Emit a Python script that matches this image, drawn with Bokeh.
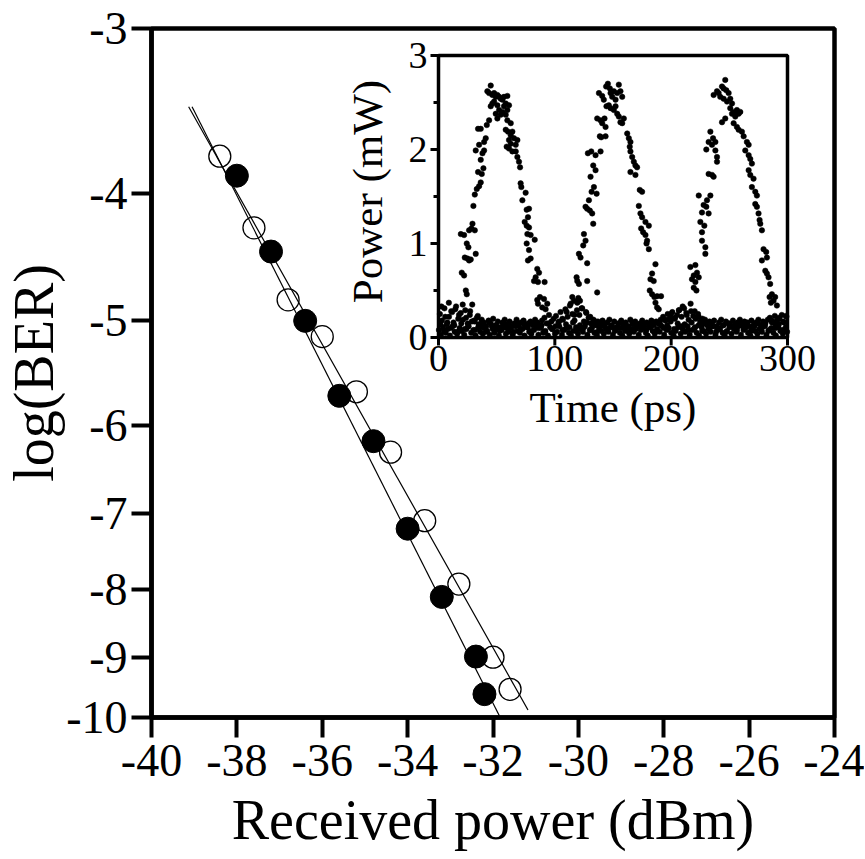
import math
from bokeh.plotting import figure
from bokeh.models import Range1d, FixedTicker, LinearScale
from bokeh.core.properties import value
from bokeh.embed import file_html
from bokeh.resources import INLINE

FONT = "Liberation Serif"

# ---------------- main chart data ----------------
x_ticks = [-40, -38, -36, -34, -32, -30, -28, -26, -24]
x_tick_labels = ["-40", "-38", "-36", "-34", "-32", "-30", "-28", "-26", "-24"]
y_ticks = [3, 4, 5, 6, 7, 8, 9, 10]          # |log(BER)| on the scale
y_tick_labels = ["-3", "-4", "-5", "-6", "-7", "-8", "-9", "-10"]

filled_x = [-38.0, -37.2, -36.4, -35.6, -34.8, -34.0, -33.2, -32.4, -32.2]
filled_logber = [-3.88, -4.43, -5.00, -5.70, -6.17, -7.19, -8.10, -8.99, -9.60]

open_x = [-38.4, -37.6, -36.8, -36.0, -35.2, -34.4, -33.6, -32.8, -32.0, -31.6]
open_logber = [-3.75, -4.25, -4.82, -5.14, -5.66, -6.29, -7.09, -7.92, -9.00, -9.52]

fit_filled_x = [-39.05, -31.75]
fit_filled_logber = [-3.44, -10.12]
fit_open_x = [-39.13, -31.18]
fit_open_logber = [-3.44, -9.87]

# ---------------- inset data (time ps, power mW) ----------------
pulse1 = [(20.0,0.69),(22.0,0.66),(23.5,0.50),(24.3,0.46),(22.6,0.85),(24.9,0.84),(26.3,0.82),(27.7,0.83),
          (32.0,0.89),(24.3,1.00),(25.7,0.96),(28.3,1.16),(31.2,1.14),(29.2,1.21),(19.2,1.10),(22.0,1.09),
          (26.3,1.14),(30.0,1.40),(31.2,1.52),(32.9,1.58),(34.9,1.61),(36.3,1.65),(34.0,1.76),(37.2,1.74),
          (38.6,1.80),(32.0,1.99),(34.9,2.05),(36.3,1.89),(37.8,1.96),(39.2,1.99),(39.2,2.08),(40.6,2.12),
          (34.0,2.22),(36.3,2.22),(41.5,2.26),(43.5,2.31),
          (42.0,2.62),(43.5,2.60),(44.9,2.68),(46.3,2.58),(47.8,2.60),(49.2,2.56),(50.6,2.58),(52.1,2.56),
          (53.5,2.54),(54.9,2.53),(56.3,2.56),(59.2,2.57),(44.9,2.46),(46.3,2.49),(47.8,2.51),(50.6,2.47),
          (52.1,2.42),(53.5,2.37),(54.9,2.40),(49.2,2.38),(50.6,2.33),(56.3,2.46),(57.8,2.49),(59.2,2.42),
          (60.6,2.47),(57.8,2.37),(59.2,2.31),(62.1,2.28),(57.8,2.21),(59.8,2.19),(62.1,2.15),(63.5,2.19),
          (64.9,2.12),(66.4,2.05),(67.8,2.10),(60.6,2.10),(62.1,2.06),(58.6,2.03),(60.6,2.01),(63.5,1.98),
          (66.4,1.98),(67.8,1.92),(69.2,1.87),(70.1,1.81),
          (70.6,1.64),(71.2,1.60),(74.9,1.54),(72.1,1.46),(75.8,1.36),(77.8,1.37),(76.9,1.28),(74.1,1.23),
          (75.8,1.19),(77.8,1.17),(76.4,1.10),(79.2,1.09),(82.7,1.04),(75.8,1.00),(77.8,0.93),(76.9,0.82),
          (79.2,0.84),(84.9,0.73),(86.4,0.69),(83.5,0.64),(82.1,0.60),(85.5,0.59),(91.2,0.59),(84.9,0.40),
          (87.2,0.43),(90.7,0.41),(85.5,0.36),(89.2,0.32),(92.1,0.30),(93.5,0.36)]

pulse2 = [(116.4,0.39),(115.0,0.43),(119.3,0.37),(121.6,0.39),(118.7,0.64),(119.3,0.60),(120.7,0.57),(127.8,0.60),
          (136.4,0.48),(120.7,0.89),(122.1,0.85),(127.8,0.79),(125.0,1.10),(126.4,1.03),(124.4,0.98),(126.4,1.39),
          (127.8,1.37),(130.1,1.35),(132.1,1.32),(133.0,1.21),(129.3,1.46),(131.6,1.55),(133.6,1.60),(135.9,1.53),
          (130.7,1.71),(133.0,1.83),(135.0,1.78),(128.4,1.96),(131.3,1.98),(135.0,1.94),(139.3,1.98),(138.7,2.14),
          (139.9,2.13),(143.6,2.14),(136.4,2.33),(139.3,2.31),(140.7,2.28),(142.7,2.33),(143.6,2.24),
          (137.9,2.60),(140.7,2.57),(142.1,2.53),(144.1,2.67),(145.6,2.70),(147.3,2.65),(147.9,2.60),(149.3,2.56),
          (150.7,2.62),(152.2,2.53),(153.6,2.60),(155.0,2.69),(156.4,2.62),(157.9,2.56),(146.4,2.47),(147.9,2.44),
          (150.7,2.42),(153.6,2.38),(155.0,2.35),(156.4,2.29),(157.9,2.28),(159.3,2.33),(152.2,2.46),(144.4,2.46),
          (162.2,2.17),(163.6,2.12),(165.0,2.08),(164.4,2.03),(165.0,1.98),(166.5,1.92),(167.9,1.87),(169.3,1.83),
          (170.7,1.81),(165.0,1.76),(169.3,1.73),(173.0,1.57),(175.0,1.55),(172.2,1.40),(173.6,1.32),(175.0,1.28),
          (177.9,1.23),(180.8,1.19),(174.2,1.16),(175.9,1.12),(177.9,1.09),(179.3,1.03),(178.8,1.00),(180.8,0.94),
          (186.5,0.78),(183.6,0.68),(182.2,0.62),(185.0,0.60),(181.6,0.50),(183.6,0.46),(185.6,0.43),(187.9,0.44),
          (191.3,0.44),(186.5,0.37),(187.9,0.32),(189.3,0.30)]

pulse3 = [(216.5,0.75),(220.8,0.77),(219.4,0.66),(222.2,0.69),(217.9,0.62),(220.8,0.59),(223.7,0.64),(219.4,0.53),
          (221.7,0.50),(229.4,0.89),(229.4,0.96),(226.5,1.03),(225.1,1.23),(228.5,1.19),(226.5,1.12),(226.5,1.33),
          (227.9,1.41),(230.2,1.39),(232.2,1.32),(223.7,1.51),(230.8,1.46),(233.7,1.51),(232.2,1.74),(235.1,1.73),
          (236.5,1.71),(230.2,2.00),(235.1,2.05),(238.0,1.99),(239.4,1.92),(232.2,2.08),(236.0,2.12),(238.0,2.08),
          (233.7,2.19),(239.4,1.87),
          (236.5,2.58),(239.4,2.62),(240.8,2.60),(242.2,2.56),(243.7,2.67),(245.1,2.65),(246.5,2.74),(247.4,2.63),
          (249.4,2.60),(250.8,2.54),(252.3,2.49),(253.7,2.40),(255.1,2.37),(256.5,2.42),(258.0,2.38),(259.4,2.40),
          (243.7,2.29),(246.5,2.33),(253.7,2.28),(256.5,2.24),(258.0,2.21),(260.8,2.19),(245.1,2.54),(248.0,2.51),
          (250.8,2.44),(252.3,2.38),(255.1,2.35),
          (262.3,2.14),(265.1,2.08),(266.6,2.05),(263.7,1.99),(266.6,1.94),(268.0,1.90),(269.4,1.85),(266.6,1.78),
          (268.0,1.73),(270.8,1.69),(269.4,1.60),(272.3,1.55),(273.7,1.51),(272.3,1.42),(273.7,1.39),(275.1,1.32),
          (276.0,1.25),(276.6,1.21),(278.0,1.14),(279.4,0.94),(281.7,0.91),(282.3,0.85),(278.0,0.82),(280.9,0.71),
          (282.3,0.68),(283.7,0.64),(285.1,0.57),(286.6,0.46),(284.6,0.43),(288.0,0.39),(289.4,0.43),(290.9,0.34),
          (285.7,0.37)]

base_a_t = [0.4,2.1,3.9,6.2,8.0,9.8,12.1,13.9,16.0,18.2,19.9,22.1,24.0,25.8,28.1,30.0,31.8,34.2,35.9,38.1,
            40.0,41.9,44.1,45.8,48.0,50.1,51.9,54.2,56.0,57.9,60.1,62.0,63.8,66.1,67.9,70.0,72.2,73.9,76.1,78.0,
            79.8,82.1,84.0,85.9,88.1,90.0,91.8,94.1,96.0,97.9,100.1,102.0,103.8,106.1,108.0,109.9,112.1,113.9,116.0,118.2,
            119.9,122.0,124.1,125.9,128.0,130.1,131.9,134.0,136.2,137.9,140.0,142.1,143.9,146.0,148.1,149.9,152.0,154.1,155.9,158.0,
            160.2,161.9,164.0,166.1,167.9,170.0,172.1,173.9,176.0,178.2,179.9,182.0,184.1,185.9,188.0,190.1,191.9,194.0,196.2,197.9,
            200.0,202.1,203.9,206.0,208.2,209.9,212.0,214.1,215.9,218.0,220.1,221.9,224.0,226.2,227.9,230.0,232.1,233.9,236.0,238.1,
            239.9,242.0,244.2,245.9,248.0,250.1,251.9,254.0,256.1,257.9,260.0,262.2,263.9,266.0,268.1,269.9,272.0,274.1,275.9,278.0,
            280.2,281.9,284.0,286.1,287.9,290.0,292.1,293.9,296.0,298.1,299.6]
base_a_p = [0.08,0.03,0.11,0.05,0.09,0.02,0.12,0.06,0.04,0.10,0.07,0.03,0.09,0.12,0.05,0.08,0.02,0.11,0.06,0.04,
            0.10,0.07,0.03,0.12,0.05,0.09,0.02,0.08,0.11,0.04,0.06,0.10,0.03,0.12,0.07,0.05,0.09,0.02,0.11,0.06,
            0.04,0.08,0.12,0.03,0.10,0.05,0.07,0.02,0.11,0.09,0.04,0.06,0.12,0.03,0.08,0.10,0.05,0.02,0.07,0.11,
            0.04,0.09,0.06,0.12,0.03,0.08,0.10,0.05,0.02,0.11,0.07,0.04,0.09,0.06,0.12,0.03,0.08,0.10,0.05,0.02,
            0.07,0.11,0.04,0.09,0.06,0.12,0.03,0.08,0.10,0.05,0.02,0.11,0.07,0.04,0.09,0.06,0.12,0.03,0.08,0.10,
            0.05,0.02,0.07,0.11,0.04,0.09,0.06,0.12,0.03,0.08,0.10,0.05,0.02,0.11,0.07,0.04,0.09,0.06,0.12,0.03,
            0.08,0.10,0.05,0.02,0.07,0.11,0.04,0.09,0.06,0.12,0.03,0.08,0.10,0.05,0.02,0.11,0.07,0.04,0.09,0.06,
            0.12,0.03,0.08,0.10,0.05,0.02,0.11,0.07,0.04,0.09,0.06]

base_b_t = [1.2,3.0,5.1,7.1,9.0,11.0,12.9,15.1,17.0,19.1,
            21.0,23.0,25.1,26.9,29.0,31.1,33.0,35.0,37.1,39.0,
            41.0,43.1,44.9,47.0,49.1,51.0,53.0,55.1,56.9,59.0,
            61.1,63.0,65.0,67.1,69.0,71.0,73.1,74.9,77.0,79.1,
            81.0,83.0,85.1,86.9,89.0,91.1,93.0,95.0,97.1,99.0,
            101.0,103.1,104.9,107.0,109.1,111.0,113.0,115.1,116.9,119.0,
            121.1,123.0,125.0,127.1,129.0,131.0,133.1,134.9,137.0,139.1,
            141.0,143.0,145.1,146.9,149.0,151.1,153.0,155.0,157.1,159.0,
            161.0,163.1,164.9,167.0,169.1,171.0,173.0,175.1,176.9,179.0,
            181.1,183.0,185.0,187.1,189.0,191.0,193.1,194.9,197.0,199.1,
            201.0,203.0,205.1,206.9,209.0,211.1,213.0,215.0,217.1,219.0,
            221.0,223.1,224.9,227.0,229.1,231.0,233.0,235.1,236.9,239.0,
            241.1,243.0,245.0,247.1,249.0,251.0,253.1,254.9,257.0,259.1,
            261.0,263.0,265.1,266.9,269.0,271.1,273.0,275.0,277.1,279.0,
            281.0,283.1,284.9,287.0,289.1,291.0,293.0,295.1,296.9,299.0]
base_b_p = [0.25,0.18,0.31,0.14,0.22,0.28,0.16,0.33,0.20,0.26,
            0.19,0.29,0.15,0.24,0.35,0.17,0.21,0.13,0.19,0.16,
            0.12,0.18,0.15,0.20,0.13,0.17,0.11,0.16,0.19,0.14,
            0.17,0.12,0.15,0.19,0.13,0.16,0.18,0.12,0.15,0.17,
            0.13,0.19,0.16,0.12,0.18,0.21,0.15,0.24,0.17,0.20,
            0.23,0.16,0.27,0.19,0.30,0.22,0.34,0.25,0.18,0.29,
            0.24,0.31,0.17,0.26,0.21,0.15,0.19,0.13,0.17,0.14,
            0.18,0.12,0.16,0.19,0.13,0.17,0.11,0.15,0.18,0.14,
            0.16,0.12,0.19,0.14,0.17,0.13,0.15,0.18,0.12,0.16,
            0.14,0.18,0.13,0.17,0.15,0.19,0.22,0.18,0.25,0.21,
            0.27,0.20,0.24,0.29,0.22,0.31,0.26,0.19,0.28,0.23,
            0.20,0.25,0.17,0.15,0.19,0.13,0.17,0.14,0.18,0.12,
            0.16,0.19,0.13,0.17,0.15,0.12,0.18,0.14,0.16,0.19,
            0.13,0.17,0.15,0.12,0.18,0.14,0.16,0.19,0.13,0.17,
            0.15,0.19,0.21,0.17,0.23,0.18,0.20,0.24,0.16,0.22]

base_c_t = [2.5,5.8,8.9,11.7,14.4,17.6,20.8,23.7,27.2,30.6,33.8,37.5,
            106.5,110.2,113.6,116.8,120.2,123.5,126.8,130.4,133.7,
            196.4,199.8,203.3,206.6,209.9,213.4,216.7,220.2,223.6,226.9,
            286.3,289.7,292.8,296.2,298.8]
base_c_p = [0.33,0.22,0.37,0.27,0.30,0.24,0.35,0.21,0.28,0.18,0.23,0.16,
            0.20,0.27,0.36,0.24,0.42,0.31,0.27,0.22,0.18,
            0.19,0.25,0.21,0.29,0.33,0.24,0.36,0.28,0.22,0.20,
            0.18,0.14,0.21,0.17,0.23]

base_d_t = [1.6,4.6,7.6,10.6,13.6,16.6,19.6,22.6,25.6,28.6,
            31.6,34.6,37.6,40.6,43.6,46.6,49.6,52.6,55.6,58.6,
            61.6,64.6,67.6,70.6,73.6,76.6,79.6,82.6,85.6,88.6,
            91.6,94.6,97.6,100.6,103.6,106.6,109.6,112.6,115.6,118.6,
            121.6,124.6,127.6,130.6,133.6,136.6,139.6,142.6,145.6,148.6,
            151.6,154.6,157.6,160.6,163.6,166.6,169.6,172.6,175.6,178.6,
            181.6,184.6,187.6,190.6,193.6,196.6,199.6,202.6,205.6,208.6,
            211.6,214.6,217.6,220.6,223.6,226.6,229.6,232.6,235.6,238.6,
            241.6,244.6,247.6,250.6,253.6,256.6,259.6,262.6,265.6,268.6,
            271.6,274.6,277.6,280.6,283.6,286.6,289.6,292.6,295.6,298.6]
base_d_p = [0.14,0.07,0.16,0.10,0.13,0.06,0.15,0.09,0.12,0.17,
            0.08,0.14,0.11,0.06,0.16,0.09,0.13,0.07,0.15,0.10,
            0.12,0.06,0.16,0.09,0.14,0.11,0.07,0.15,0.10,0.13,
            0.06,0.15,0.09,0.12,0.17,0.08,0.14,0.11,0.16,0.07,
            0.13,0.10,0.16,0.08,0.14,0.06,0.12,0.15,0.09,0.11,
            0.07,0.15,0.10,0.13,0.06,0.16,0.09,0.12,0.14,0.08,
            0.11,0.16,0.07,0.14,0.10,0.13,0.17,0.09,0.15,0.12,
            0.14,0.08,0.16,0.11,0.13,0.07,0.15,0.10,0.12,0.06,
            0.09,0.13,0.06,0.15,0.11,0.08,0.14,0.10,0.16,0.07,
            0.12,0.15,0.09,0.13,0.07,0.16,0.10,0.14,0.08,0.11]

inset_t_range = [0, 300]
inset_p_range = [0, 3]
inset_x_ticks = [0, 100, 200, 300]
inset_x_tick_labels = ["0", "100", "200", "300"]
inset_y_ticks = [0, 1, 2, 3]
inset_y_tick_labels = ["0", "1", "2", "3"]
inset_y_minor = [0.5, 1.5, 2.5]

# ---------------- layout (pixels) ----------------
FRAME_L, FRAME_T, FRAME_W, FRAME_H = 151, 28, 683, 689
INSET_L, INSET_R, INSET_T, INSET_B = 438, 787, 55, 337   # inset frame in page pixels

p = figure(frame_width=FRAME_W, frame_height=FRAME_H,
           x_range=Range1d(-40, -24), y_range=Range1d(10, 3), y_axis_type="log",
           output_backend="svg", toolbar_location=None,
           min_border_left=FRAME_L, min_border_top=FRAME_T, min_border_right=30, min_border_bottom=141,
           background_fill_color="white", border_fill_color="white")
p.xgrid.visible = False
p.ygrid.visible = False
p.outline_line_color = "black"
p.outline_line_width = 4.5
p.outline_line_alpha = 1.0

p.xaxis.ticker = FixedTicker(ticks=x_ticks, minor_ticks=[])
p.xaxis.major_label_overrides = {t: l for t, l in zip(x_ticks, x_tick_labels)}
p.yaxis.ticker = FixedTicker(ticks=y_ticks, minor_ticks=[])
p.yaxis.major_label_overrides = {t: l for t, l in zip(y_ticks, y_tick_labels)}
p.xaxis.axis_label = "Received power (dBm)"
p.yaxis.axis_label = "log(BER)"

for ax in (p.xaxis[0], p.yaxis[0]):
    ax.axis_line_width = 4.5
    ax.axis_line_color = "black"
    ax.major_tick_line_width = 4
    ax.major_tick_line_color = "black"
    ax.major_tick_out = 20
    ax.major_tick_in = 0
    ax.minor_tick_out = 0
    ax.minor_tick_in = 0
    ax.major_label_text_font = FONT
    ax.major_label_text_font_size = "46px"
    ax.major_label_text_color = "black"
    ax.axis_label_text_font = FONT
    ax.axis_label_text_font_size = "56px"
    ax.axis_label_text_font_style = "normal"
    ax.axis_label_text_color = "black"
p.xaxis.major_label_standoff = 7
p.xaxis.axis_label_standoff = 10
p.yaxis.major_label_standoff = 4
p.yaxis.axis_label_standoff = -2

p.line(fit_filled_x, [-v for v in fit_filled_logber], line_color="black", line_width=1.2)
p.line(fit_open_x, [-v for v in fit_open_logber], line_color="black", line_width=1.2)
p.scatter(open_x, [-v for v in open_logber], size=22, marker="circle",
          fill_color=None, line_color="black", line_width=1.3)
p.scatter(filled_x, [-v for v in filled_logber], size=23, marker="circle",
          fill_color="black", line_color="black")

# ---------------- inset drawn on its own (linear) ranges inside the main frame ----------------
t0, t1 = inset_t_range
q0, q1 = inset_p_range
sx = (t1 - t0) / (INSET_R - INSET_L)      # data units per pixel
sy = (q1 - q0) / (INSET_B - INSET_T)
p.extra_x_ranges = {"ins": Range1d(t0 - (INSET_L - FRAME_L) * sx,
                                   t1 + (FRAME_L + FRAME_W - INSET_R) * sx)}
p.extra_y_ranges = {"ins": Range1d(q0 - (FRAME_T + FRAME_H - INSET_B) * sy,
                                   q1 + (INSET_T - FRAME_T) * sy)}
p.extra_x_scales = {"ins": LinearScale()}
p.extra_y_scales = {"ins": LinearScale()}
R = dict(x_range_name="ins", y_range_name="ins")

p.quad(left=[t0], right=[t1], bottom=[q0], top=[q1], fill_color="white",
       line_color="black", line_width=3.5, **R)

# ticks
p.ray(x=inset_x_ticks, y=[q0] * len(inset_x_ticks), length=8, length_units="screen",
      angle=-math.pi / 2, line_color="black", line_width=3, **R)
p.ray(x=[t0] * len(inset_y_ticks), y=inset_y_ticks, length=8, length_units="screen",
      angle=math.pi, line_color="black", line_width=3, **R)
p.ray(x=[t0] * len(inset_y_minor), y=inset_y_minor, length=5, length_units="screen",
      angle=math.pi, line_color="black", line_width=3, **R)

# data dots
all_t = [t for t, _ in pulse1 + pulse2 + pulse3] + base_a_t + base_b_t + base_c_t + base_d_t
all_p = [v for _, v in pulse1 + pulse2 + pulse3] + base_a_p + base_b_p + base_c_p + base_d_p
p.scatter(all_t, all_p, size=5.5, marker="circle", fill_color="black", line_color="black",
          line_width=0.5, **R)

# tick labels and axis titles of the inset
p.text(x=inset_x_ticks, y=[q0] * len(inset_x_ticks), text=inset_x_tick_labels,
       text_font=value(FONT), text_font_size="38px", text_color="black",
       text_align="center", text_baseline="top", y_offset=8, **R)
p.text(x=[t0] * len(inset_y_ticks), y=inset_y_ticks, text=inset_y_tick_labels,
       text_font=value(FONT), text_font_size="38px", text_color="black",
       text_align="right", text_baseline="middle", x_offset=-11, **R)
p.text(x=[(t0 + t1) / 2], y=[q0], text=["Time (ps)"],
       text_font=value(FONT), text_font_size="43px", text_color="black",
       text_align="center", text_baseline="top", y_offset=46, **R)
p.text(x=[t0], y=[(q0 + q1) / 2], text=["Power (mW)"], angle=math.pi / 2,
       text_font=value(FONT), text_font_size="43px", text_color="black",
       text_align="center", text_baseline="bottom", x_offset=-48, y_offset=-5, **R)

open("out.html", "w").write(file_html(p, INLINE))
